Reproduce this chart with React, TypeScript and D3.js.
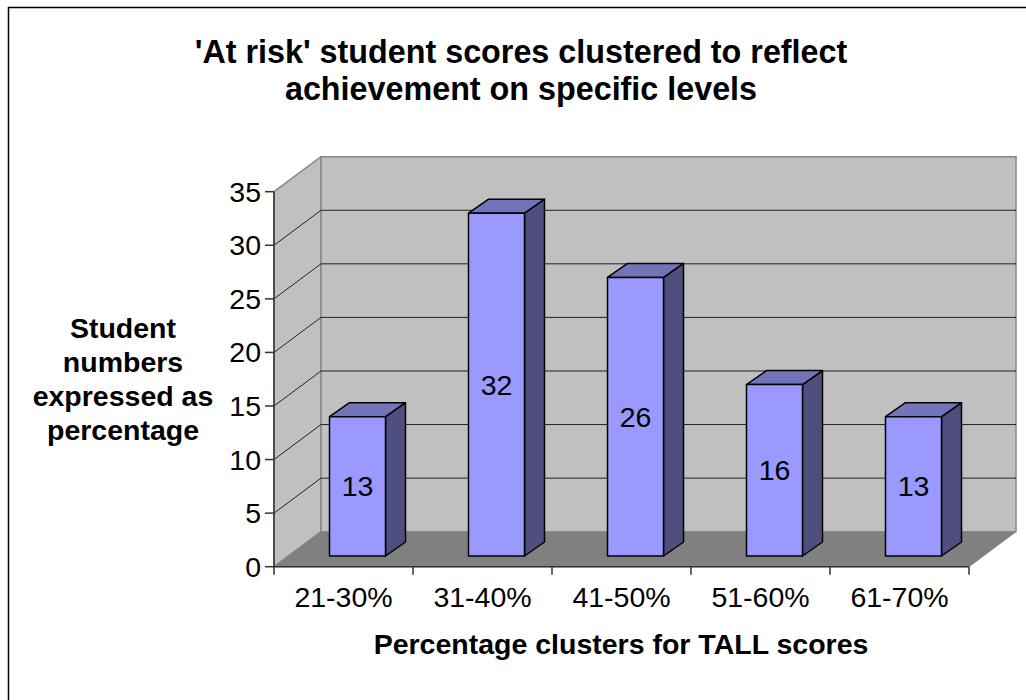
import React from "react";
import * as d3 from "d3";

const categories = ["21-30%", "31-40%", "41-50%", "51-60%", "61-70%"];
const scores = [13, 32, 26, 16, 13];
const valueTicks = [0, 5, 10, 15, 20, 25, 30, 35];
const titleLines = ["'At risk' student scores clustered to reflect", "achievement on specific levels"];
const yTitleLines = ["Student", "numbers", "expressed as", "percentage"];
const xTitle = "Percentage clusters for TALL scores";

const W = 1026;
const H = 700;
const FONT = "'Liberation Sans', Arial, sans-serif";

// Oblique offset from the front plane of the floor to the back wall.
const DEPTH_X = 47;
const DEPTH_Y = -35;
// Bars stand part way into the floor and have their own shorter depth.
const BAR_SHIFT_X = 14;
const BAR_SHIFT_Y = -10.7;
const BAR_DEPTH_X = 20;
const BAR_DEPTH_Y = -14;

const x = d3.scaleBand<string>().domain(categories).range([274, 969]);
const y = d3.scaleLinear().domain([0, 35]).range([566.7, 191.7]);
const BAR_W = 56;

const poly = (pts: [number, number][]) => d3.line()(pts) + "Z";

export default function App() {
  const x0 = x.range()[0];
  const x1 = x.range()[1];
  const y0 = y(0);
  const yTop = y(35);
  const dark = "#333333";
  const rim = "#868686";
  const tickEdges = categories.map((c) => x(c) as number).concat(x1);

  return (
    <svg
      width={W}
      height={H}
      viewBox={`0 0 ${W} ${H}`}
      style={{ position: "absolute", left: 0, top: 0, background: "#fff" }}
      fontFamily={FONT}
    >
      {/* outer frame */}
      <path d={`M8.5 ${H}V7.5H${W}`} fill="none" stroke="#000" strokeWidth={1.5} />

      {/* walls and floor */}
      <path
        d={poly([[x0, y0], [x0 + DEPTH_X, y0 + DEPTH_Y], [x0 + DEPTH_X, yTop + DEPTH_Y], [x0, yTop]])}
        fill="#c0c0c0"
        stroke={rim}
        strokeWidth={1.5}
      />
      <path
        d={poly([[x0 + DEPTH_X, y0 + DEPTH_Y], [x1 + DEPTH_X, y0 + DEPTH_Y], [x1 + DEPTH_X, yTop + DEPTH_Y], [x0 + DEPTH_X, yTop + DEPTH_Y]])}
        fill="#c0c0c0"
        stroke={rim}
        strokeWidth={1.5}
      />
      <path
        d={poly([[x0, y0], [x1, y0], [x1 + DEPTH_X, y0 + DEPTH_Y], [x0 + DEPTH_X, y0 + DEPTH_Y]])}
        fill="#808080"
        stroke={rim}
        strokeWidth={1}
      />

      {/* gridlines on side and back walls */}
      {valueTicks.filter((t) => t > 0 && t < 35).map((t) => (
        <path
          key={t}
          d={`M${x0} ${y(t)}L${x0 + DEPTH_X} ${y(t) + DEPTH_Y}H${x1 + DEPTH_X}`}
          fill="none"
          stroke="#222"
          strokeWidth={1}
        />
      ))}

      {/* bars */}
      {categories.map((c, i) => {
        const left = (x(c) as number) + (x.bandwidth() - BAR_W) / 2 + BAR_SHIFT_X;
        const right = left + BAR_W;
        const bottom = y(0) + BAR_SHIFT_Y;
        const top = y(scores[i]) + BAR_SHIFT_Y;
        return (
          <g key={c} stroke="#000" strokeWidth={1.5} strokeLinejoin="round">
            <path
              d={poly([[right, top], [right + BAR_DEPTH_X, top + BAR_DEPTH_Y], [right + BAR_DEPTH_X, bottom + BAR_DEPTH_Y], [right, bottom]])}
              fill="#4e4e7f"
            />
            <path
              d={poly([[left, top], [left + BAR_DEPTH_X, top + BAR_DEPTH_Y], [right + BAR_DEPTH_X, top + BAR_DEPTH_Y], [right, top]])}
              fill="#7373b9"
            />
            <path d={poly([[left, top], [right, top], [right, bottom], [left, bottom]])} fill="#9999ff" />
            <text
              x={(left + right) / 2}
              y={(top + bottom) / 2 + 10}
              textAnchor="middle"
              fontSize={28.5}
              fill="#000"
              stroke="none"
            >
              {scores[i]}
            </text>
          </g>
        );
      })}

      {/* axes */}
      <path d={`M${x0} ${yTop}V${y0}H${x1}`} fill="none" stroke={dark} strokeWidth={1.5} />
      {valueTicks.map((t) => (
        <g key={t}>
          <line x1={x0 - 9} x2={x0} y1={y(t)} y2={y(t)} stroke={dark} strokeWidth={1.5} />
          <text x={x0 - 13} y={y(t) + 10} textAnchor="end" fontSize={28.5} fill="#000">
            {t}
          </text>
        </g>
      ))}
      {tickEdges.map((tx) => (
        <line key={tx} x1={tx} x2={tx} y1={y0} y2={y0 + 8} stroke={dark} strokeWidth={1.5} />
      ))}
      {categories.map((c) => (
        <text key={c} x={(x(c) as number) + x.bandwidth() / 2} y={607} textAnchor="middle" fontSize={28.5} fill="#000">
          {c}
        </text>
      ))}

      {/* titles */}
      <g fontWeight="bold" fill="#000" textAnchor="middle">
        <text x={521} y={63} fontSize={32.3}>{titleLines[0]}</text>
        <text x={521} y={100} fontSize={32.3}>{titleLines[1]}</text>
        {yTitleLines.map((l, i) => (
          <text key={l} x={123} y={338 + i * 34} fontSize={28.5}>{l}</text>
        ))}
        <text x={621} y={654} fontSize={28.5}>{xTitle}</text>
      </g>
    </svg>
  );
}
